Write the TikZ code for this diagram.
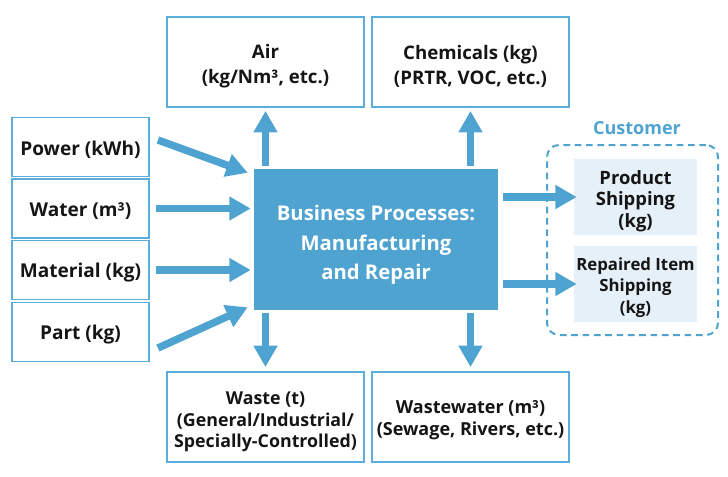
\documentclass[tikz,border=0pt]{standalone}
\usepackage{fontspec}
\setmainfont{Open Sans}
\usetikzlibrary{arrows.meta,calc}
\definecolor{mblue}{HTML}{4EA3D1}
\definecolor{bord}{HTML}{5BAEDB}
\definecolor{cfill}{HTML}{E6F0F9}
\definecolor{txt}{HTML}{151515}
\begin{document}
\begin{tikzpicture}[x=0.75pt,y=-0.75pt,
  box/.style={draw=bord, line width=1.4pt, inner sep=0pt},
  inbox/.style={box, minimum width=102.75pt, minimum height=44.25pt},
  outbox/.style={box, minimum width=147.75pt, minimum height=67.5pt},
  custbox/.style={fill=cfill, inner sep=0pt, minimum width=92.25pt, minimum height=57pt},
  lbl/.style={align=center, inner sep=0pt, text=txt, font=\bfseries\fontsize{14.3}{18.75}\selectfont},
  flow/.style={draw=mblue, line width=5.6pt, -{Triangle[length=16pt,width=17pt]}}
]
\useasboundingbox (0,0) rectangle (728,476);

% inputs
\node[inbox] (power) at (80.5,147) {};
\node[inbox] (water) at (80.5,208.5) {};
\node[inbox] (material) at (80.5,270) {};
\node[inbox] (part) at (80.5,332) {};
\node[lbl] (powertxt) at ($(power)+(0,3)$) {Power (kWh)};
\node[lbl] (watertxt) at ($(water)+(0,3)$) {Water (m³)};
\node[lbl] (materialtxt) at ($(material)+(0,3)$) {Material (kg)};
\node[lbl] (parttxt) at ($(part)+(0,3)$) {Part (kg)};

% main
\node[fill=mblue, minimum width=183pt, minimum height=105.75pt, inner sep=0pt] (main) at (376,239.5) {};
\node[lbl, text=white, font=\bfseries\fontsize{15.2}{22.1}\selectfont] (maintxt) at ($(main)+(0,5.5)$)
  {Business Processes:\\Manufacturing\\and Repair};

% outputs
\node[outbox] (air) at (265.5,62) {};
\node[outbox] (chem) at (470.5,62) {};
\node[outbox] (waste) at (265.5,417) {};
\node[outbox] (wwater) at (470.5,417) {};
\node[lbl, font=\bfseries\fontsize{14}{18.75}\selectfont] (airtxt) at ($(air)+(0,4.5)$) {Air\\(kg/Nm³, etc.)};
\node[lbl, font=\bfseries\fontsize{14}{18.75}\selectfont] (chemtxt) at ($(chem)+(0,4.5)$) {Chemicals (kg)\\(PRTR, VOC, etc.)};
\node[lbl, font=\bfseries\fontsize{13.35}{16.3}\selectfont] (wastetxt) at ($(waste)+(0,5)$) {Waste (t)\\(General/Industrial/\\Specially-Controlled)};
\node[lbl, font=\bfseries\fontsize{13.5}{16}\selectfont] (wwatertxt) at ($(wwater)+(0,3)$) {Wastewater (m³)\\(Sewage, Rivers, etc.)};

% customer
\node[draw=mblue, line width=1.5pt, dash pattern=on 5pt off 3.5pt, rounded corners=9pt,
  minimum width=128.25pt, minimum height=142.5pt, inner sep=0pt] (cust) at (632.5,240) {};
\node[text=mblue, font=\bfseries\fontsize{13.5}{16}\selectfont] (custlbl) at (637,128) {Customer};
\node[custbox] (prod) at (635.5,197) {};
\node[custbox] (rep) at (635.5,284) {};
\node[lbl, font=\bfseries\fontsize{13.8}{16.1}\selectfont] (prodtxt) at ($(prod)+(0,4)$) {Product\\Shipping\\(kg)};
\node[lbl, font=\bfseries\fontsize{12.6}{16.1}\selectfont] (reptxt) at ($(rep)+(0,3.5)$) {Repaired Item\\Shipping\\(kg)};

% input arrows
\draw[flow] ($(power.east)+(8,-7)$) -- ($(main.north west)+(-6,4)$);
\draw[flow] ($(water.east)+(6,0)$) -- ($(main.west |- water.east)+(-3,0)$);
\draw[flow] ($(material.east)+(6,0)$) -- ($(main.west |- material.east)+(-3,0)$);
\draw[flow] ($(part.east)+(8,16)$) -- ($(main.south west)+(-6,-3)$);

% output arrows
\draw[flow] ($(main.north -| air.south)+(0,-3)$) -- ($(air.south)+(0,3)$);
\draw[flow] ($(main.north -| chem.south)+(0,-3)$) -- ($(chem.south)+(0,3)$);
\draw[flow] ($(main.south -| waste.north)+(0,3)$) -- ($(waste.north)+(0,-4)$);
\draw[flow] ($(main.south -| wwater.north)+(0,3)$) -- ($(wwater.north)+(0,-4)$);

\draw[flow] ($(main.east |- prod.west)+(5,0)$) -- ($(prod.west)+(3,0)$);
\draw[flow] ($(main.east |- rep.west)+(5,0)$) -- ($(rep.west)+(3,0)$);
\end{tikzpicture}
\end{document}
